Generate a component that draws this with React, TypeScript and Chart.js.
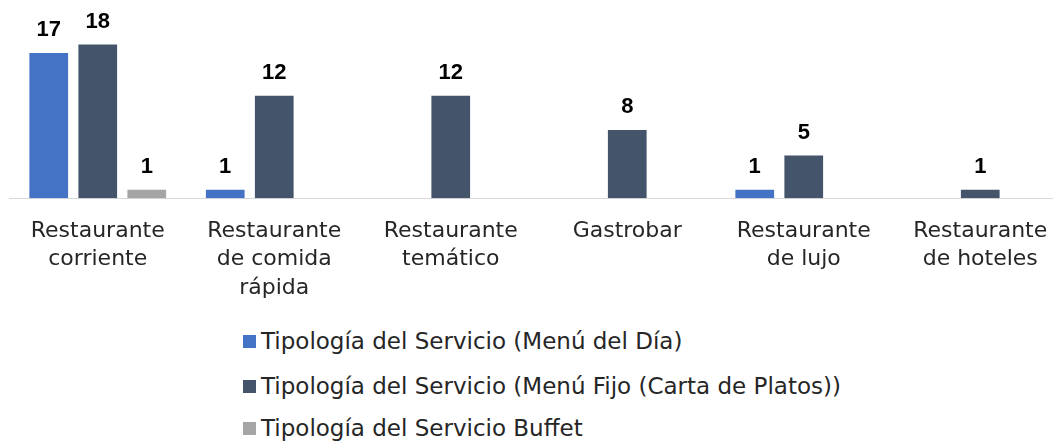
import React, { useEffect, useRef } from "react";
import { Chart, registerables } from "chart.js";

Chart.register(...registerables);

const categories: string[][] = [
  ["Restaurante", "corriente"],
  ["Restaurante", "de comida", "rápida"],
  ["Restaurante", "temático"],
  ["Gastrobar"],
  ["Restaurante", "de lujo"],
  ["Restaurante", "de hoteles"],
];

const seriesNames = [
  "Tipología del Servicio (Menú del Día)",
  "Tipología del Servicio (Menú Fijo (Carta de Platos))",
  "Tipología del Servicio Buffet",
];

const menuDelDia: (number | null)[] = [17, 1, null, null, 1, null];
const menuFijo: (number | null)[] = [18, 12, 12, 8, 5, 1];
const buffet: (number | null)[] = [1, null, null, null, null, null];

const seriesColors = ["#4472C4", "#44546A", "#A5A5A5"];

const FONT = "'DejaVu Sans', Verdana, sans-serif";
const BOLD_FONT = "'Liberation Sans', Arial, sans-serif";

const valueLabels = {
  id: "valueLabels",
  afterDatasetsDraw(chart: any) {
    const ctx = chart.ctx;
    ctx.save();
    ctx.font = `bold 22px ${BOLD_FONT}`;
    ctx.fillStyle = "#000000";
    ctx.textAlign = "center";
    ctx.textBaseline = "alphabetic";
    chart.data.datasets.forEach((ds: any, i: number) => {
      const meta = chart.getDatasetMeta(i);
      meta.data.forEach((bar: any, j: number) => {
        const v = ds.data[j];
        if (v == null) return;
        ctx.fillText(String(v), bar.x, bar.y - 17);
      });
    });
    ctx.restore();
  },
};

export default function App() {
  const canvasRef = useRef<HTMLCanvasElement | null>(null);

  useEffect(() => {
    document.body.style.margin = "0";
    const canvas = canvasRef.current;
    if (!canvas) return;
    const allSeries = [menuDelDia, menuFijo, buffet];
    const chart = new Chart(canvas, {
      type: "bar",
      data: {
        labels: categories,
        datasets: allSeries.map((d, i) => ({
          label: seriesNames[i],
          data: d,
          backgroundColor: seriesColors[i],
          borderWidth: 0,
          categoryPercentage: 0.833,
          barPercentage: 0.79,
        })),
      },
      options: {
        animation: false,
        responsive: false,
        maintainAspectRatio: false,
        layout: { padding: { left: 9.5, right: 11.5, top: 27.5, bottom: 1 } },
        plugins: {
          legend: { display: false },
          tooltip: { enabled: false },
        },
        scales: {
          x: {
            grid: { display: false, drawTicks: false },
            border: { display: true, color: "#D9D9D9", width: 1 },
            ticks: {
              color: "#262626",
              font: { family: FONT, size: 22, lineHeight: 1.3 },
              padding: 18.5,
              maxRotation: 0,
              autoSkip: false,
            },
          },
          y: {
            display: false,
            min: 0,
            max: 20,
          },
        },
      },
      plugins: [valueLabels],
    });
    return () => chart.destroy();
  }, []);

  const legendCenters = [341, 386, 428];

  return (
    <div
      style={{
        position: "absolute",
        left: 0,
        top: 0,
        width: 1053,
        height: 443,
        overflow: "hidden",
        background: "#ffffff",
      }}
    >
      <canvas
        ref={canvasRef}
        width={1080}
        height={322}
        style={{ position: "absolute", left: 0, top: 0, width: 1080, height: 322 }}
      />
      {seriesNames.map((name, i) => (
        <div
          key={name}
          style={{
            position: "absolute",
            left: 243,
            top: legendCenters[i] - 15,
            height: 30,
            display: "flex",
            alignItems: "center",
            fontFamily: FONT,
            fontSize: 23,
            color: "#262626",
            whiteSpace: "nowrap",
          }}
        >
          <span
            style={{
              display: "inline-block",
              width: 13,
              height: 13,
              background: seriesColors[i],
              marginRight: 5,
            }}
          />
          <span>{name}</span>
        </div>
      ))}
    </div>
  );
}
